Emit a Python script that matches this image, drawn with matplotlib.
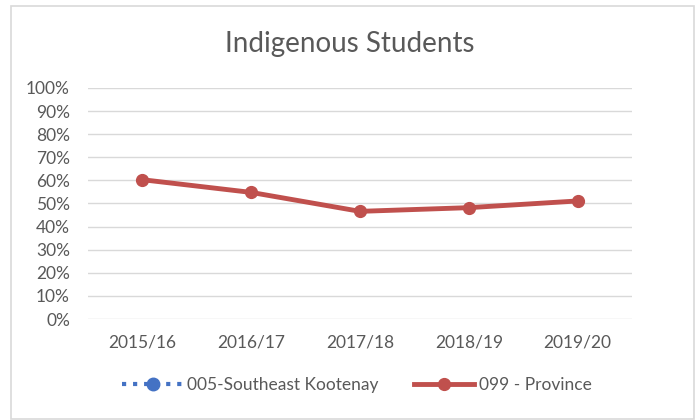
import matplotlib.pyplot as plt
import numpy as np
from matplotlib.patches import Rectangle

# Data
years = ['2015/16', '2016/17', '2017/18', '2018/19', '2019/20']
province = [60.3, 54.8, 46.6, 48.2, 51.1]
kootenay = [np.nan, np.nan, np.nan, np.nan, np.nan]
y_ticks = [0, 10, 20, 30, 40, 50, 60, 70, 80, 90, 100]

plt.rcParams['font.family'] = ['Lato', 'DejaVu Sans']

fig = plt.figure(figsize=(6.99, 4.2), dpi=100)
ax = fig.add_axes([88 / 699, 1 - 319 / 420, (632 - 88) / 699, (319 - 88) / 420])

x = np.arange(len(years))
ax.plot(x, kootenay, color='#4472C4', linestyle=':', linewidth=3,
        marker='o', markersize=9, label='005-Southeast Kootenay')
ax.plot(x, province, color='#C0504D', linewidth=3.5,
        marker='o', markersize=8.5, label='099 - Province')

ax.set_xlim(-0.5, len(years) - 0.5)
ax.set_ylim(0, 100)
ax.set_yticks(y_ticks)
ax.set_yticklabels([f'{t}%' for t in y_ticks])
ax.set_xticks(x)
ax.set_xticklabels(years)
ax.tick_params(length=0, labelsize=12.5, colors='#595959')
ax.tick_params(axis='x', pad=11)
ax.tick_params(axis='y', pad=13)
ax.grid(axis='y', color='#D9D9D9', linewidth=1)
ax.set_axisbelow(True)
for s in ax.spines.values():
    s.set_visible(False)

fig.text(350 / 699, 1 - 44 / 420, 'Indigenous Students', ha='center', va='center',
         fontsize=20, color='#595959')

fig.legend(loc='center', bbox_to_anchor=(357 / 699, 1 - 385 / 420), ncol=2,
           frameon=False, fontsize=12.5, labelcolor='#595959', handlelength=3.5,
           columnspacing=2.0, handletextpad=0.25)

# outer chart border
fig.patches.append(Rectangle((10.5 / 699, 1 - 419 / 420), (694 - 10.5) / 699, (419 - 5.5) / 420,
                             transform=fig.transFigure, fill=False,
                             edgecolor='#D9D9D9', linewidth=1.2))

fig.savefig('out.png', dpi=100)
